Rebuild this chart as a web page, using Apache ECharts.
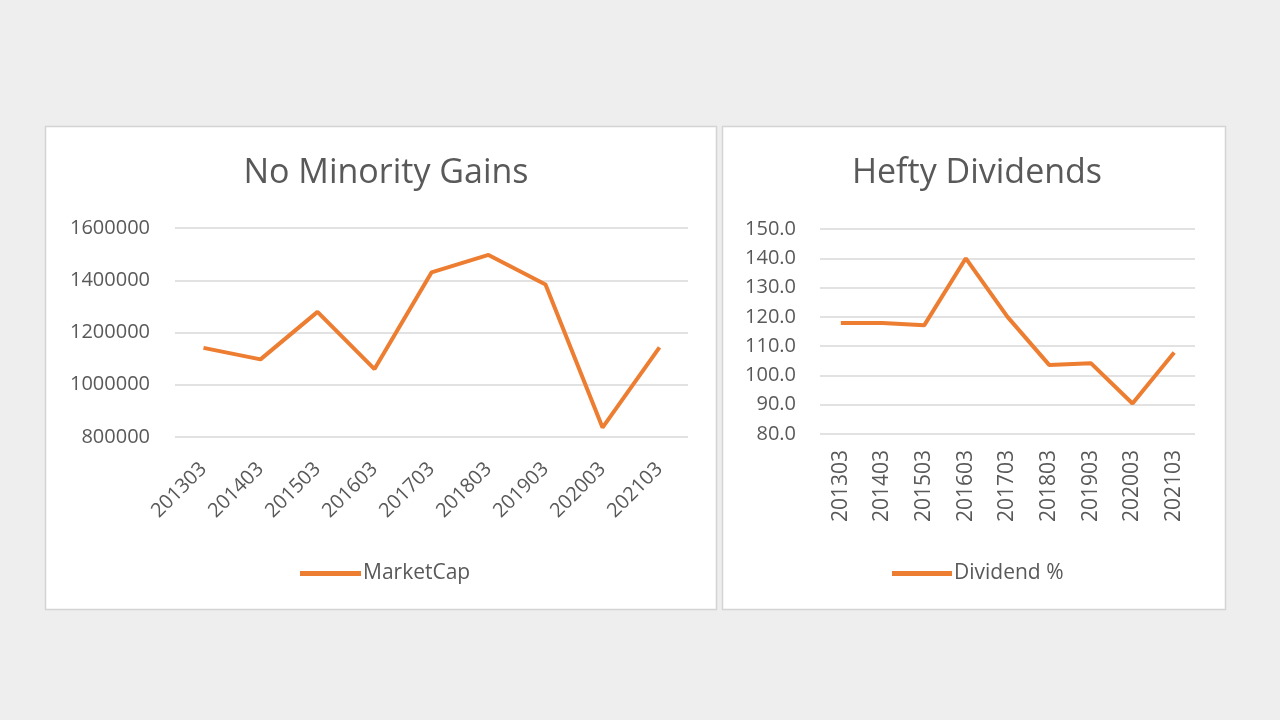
<!DOCTYPE html>
<html><head><meta charset="utf-8">
<script src="https://cdn.jsdelivr.net/npm/echarts@6/dist/echarts.min.js"></script>
<style>html,body{margin:0;padding:0;background:#efeeee}#c{width:1280px;height:720px}</style>
</head><body><div id="c"></div>
<script>
const categories = ['201303','201403','201503','201603','201703','201803','201903','202003','202103'];
const marketCap = [1141000, 1097000, 1279000, 1060000, 1430000, 1497000, 1384000, 836000, 1143000];
const dividendPct = [117.9, 117.9, 117.1, 140.0, 120.0, 103.6, 104.2, 90.4, 107.8];
const capTicks = {min: 800000, max: 1600000, interval: 200000};
const divTicks = {min: 80, max: 150, interval: 10};

const FONT = '"Open Sans", "Noto Sans", sans-serif';
const TXT = '#595959';
const GRIDC = '#d9d9d9';
const ORANGE = '#ed7d31';

const chart = echarts.init(document.getElementById('c'));
chart.setOption({
  backgroundColor: '#efeeee',
  animation: false,
  graphic: [
    {type:'rect', shape:{x:45.5,y:126.5,width:671,height:483}, style:{fill:'#ffffff', stroke:'#d4d4d4', lineWidth:1.5}, z:-10},
    {type:'rect', shape:{x:722.5,y:126.5,width:503,height:483}, style:{fill:'#ffffff', stroke:'#d4d4d4', lineWidth:1.5}, z:-10}
  ],
  title: [
    {text:'No Minority Gains', left:381, top:151, textAlign:'center', textStyle:{fontFamily:FONT, fontSize:34, fontWeight:'normal', color:TXT}},
    {text:'Hefty Dividends', left:972, top:151, textAlign:'center', textStyle:{fontFamily:FONT, fontSize:34, fontWeight:'normal', color:TXT}}
  ],
  legend: [
    {data:['MarketCap'], left:295, top:558, icon:'rect', itemWidth:61, itemHeight:5, itemGap:5,
     textStyle:{fontFamily:FONT, fontSize:21, color:TXT, padding:[0,0,0,-3]}},
    {data:['Dividend %'], left:887, top:558, icon:'rect', itemWidth:60, itemHeight:5, itemGap:5,
     textStyle:{fontFamily:FONT, fontSize:21, color:TXT, padding:[0,0,0,-3]}}
  ],
  grid: [
    {left:175, right:592, top:228, bottom:283},
    {left:820, right:85, top:229, bottom:286}
  ],
  xAxis: [
    {type:'category', gridIndex:0, data:categories, boundaryGap:true,
     axisLine:{show:false}, axisTick:{show:false},
     axisLabel:{rotate:45, margin:29, fontFamily:FONT, fontSize:20, color:TXT}},
    {type:'category', gridIndex:1, data:categories, boundaryGap:true,
     axisLine:{show:false}, axisTick:{show:false},
     axisLabel:{rotate:90, margin:16, fontFamily:FONT, fontSize:21, color:TXT}}
  ],
  yAxis: [
    {type:'value', gridIndex:0, min:capTicks.min, max:capTicks.max, interval:capTicks.interval,
     axisLine:{show:false}, axisTick:{show:false},
     splitLine:{lineStyle:{color:GRIDC, width:1.5}},
     axisLabel:{margin:25, fontFamily:FONT, fontSize:20, color:TXT, formatter:v=>String(v)}},
    {type:'value', gridIndex:1, min:divTicks.min, max:divTicks.max, interval:divTicks.interval,
     axisLine:{show:false}, axisTick:{show:false},
     splitLine:{lineStyle:{color:GRIDC, width:1.5}},
     axisLabel:{margin:24, fontFamily:FONT, fontSize:20, color:TXT, formatter:v=>v.toFixed(1)}}
  ],
  series: [
    {name:'MarketCap', type:'line', xAxisIndex:0, yAxisIndex:0, data:marketCap, showSymbol:false,
     lineStyle:{color:ORANGE, width:4}, itemStyle:{color:ORANGE}},
    {name:'Dividend %', type:'line', xAxisIndex:1, yAxisIndex:1, data:dividendPct, showSymbol:false,
     lineStyle:{color:ORANGE, width:4}, itemStyle:{color:ORANGE}}
  ]
});
</script></body></html>
